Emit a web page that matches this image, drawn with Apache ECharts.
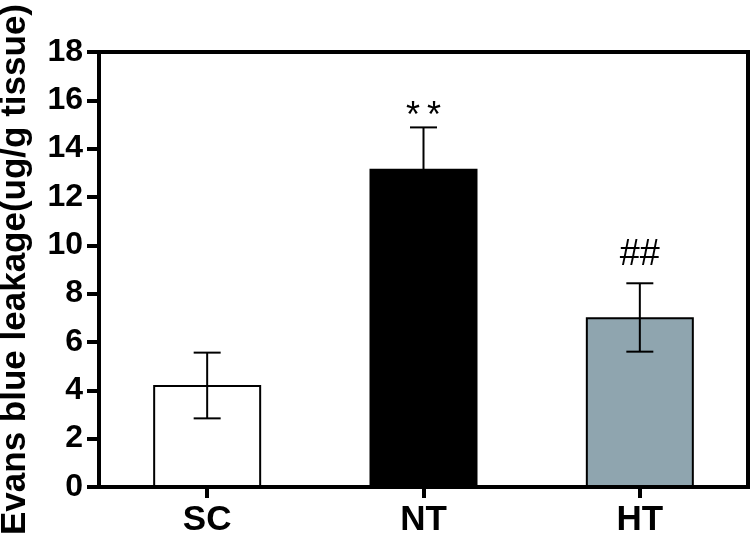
<!DOCTYPE html>
<html>
<head>
<meta charset="utf-8">
<script src="https://cdn.jsdelivr.net/npm/echarts@6/dist/echarts.min.js"></script>
<style>
html,body{margin:0;padding:0;background:#fff;}
#chart{width:753px;height:537px;}
</style>
</head>
<body>
<div id="chart"></div>
<script>
const categories = ['SC', 'NT', 'HT'];
const means = [4.22, 13.17, 7.02];
const errLow = [2.84, 11.46, 5.60];
const errHigh = [5.56, 14.88, 8.43];
const annotations = ['', '*\u2009*', '##'];
const yTicks = [0, 2, 4, 6, 8, 10, 12, 14, 16, 18];

const barColors = ['#ffffff', '#000000', '#8fa5af'];
const annotationGap = [0, 10, 28];
const FONT = '"Liberation Sans", Arial, Helvetica, sans-serif';

const chart = echarts.init(document.getElementById('chart'), null, {renderer: 'canvas'});

const option = {
  animation: false,
  backgroundColor: '#ffffff',
  grid: {
    left: 99, right: 5, top: 52, bottom: 50,
    containLabel: false,
    outerBoundsMode: 'none',
    show: true, borderColor: '#000', borderWidth: 4, backgroundColor: 'transparent'
  },
  xAxis: {
    type: 'category',
    data: categories,
    z: 5,
    axisLine: {lineStyle: {color: '#000', width: 4}},
    axisTick: {show: true, alignWithLabel: true, length: 11, lineStyle: {color: '#000', width: 4}},
    axisLabel: {color: '#000', fontFamily: FONT, fontWeight: 'bold', fontSize: 35, margin: 16},
    splitLine: {show: false}
  },
  yAxis: {
    type: 'value',
    min: yTicks[0],
    max: yTicks[yTicks.length - 1],
    interval: yTicks[1] - yTicks[0],
    z: 5,
    name: 'Evans blue leakage(ug/g tissue)',
    nameLocation: 'middle',
    nameGap: 66,
    nameTextStyle: {color: '#000', fontFamily: FONT, fontWeight: 'bold', fontSize: 35},
    axisLine: {show: true, lineStyle: {color: '#000', width: 4}},
    axisTick: {show: true, length: 12, lineStyle: {color: '#000', width: 4}},
    axisLabel: {color: '#000', fontFamily: FONT, fontWeight: 'bold', fontSize: 32, margin: 16},
    splitLine: {show: false}
  },
  series: [
    {
      type: 'bar',
      barWidth: 108,
      data: means.map((v, i) => ({
        value: v,
        itemStyle: {color: barColors[i], borderColor: '#000', borderWidth: 2}
      })),
      z: 2
    },
    {
      type: 'custom',
      z: 3,
      data: categories.map((c, i) => [i, errLow[i], errHigh[i]]),
      renderItem: function (params, api) {
        const i = api.value(0);
        const lo = api.coord([i, api.value(1)]);
        const hi = api.coord([i, api.value(2)]);
        const half = 13.5;
        const style = {stroke: '#000', lineWidth: 2};
        const children = [
          {type: 'line', shape: {x1: hi[0], y1: hi[1], x2: lo[0], y2: lo[1]}, style: style},
          {type: 'line', shape: {x1: hi[0] - half, y1: hi[1], x2: hi[0] + half, y2: hi[1]}, style: style},
          {type: 'line', shape: {x1: lo[0] - half, y1: lo[1], x2: lo[0] + half, y2: lo[1]}, style: style}
        ];
        const txt = annotations[params.dataIndex];
        if (txt) {
          children.push({
            type: 'text',
            style: {
              text: txt, x: hi[0], y: hi[1] - annotationGap[params.dataIndex],
              textAlign: 'center', textVerticalAlign: 'middle',
              font: '36px ' + FONT, fill: '#000'
            }
          });
        }
        return {type: 'group', children: children};
      }
    }
  ]
};
chart.setOption(option);
</script>
</body>
</html>
